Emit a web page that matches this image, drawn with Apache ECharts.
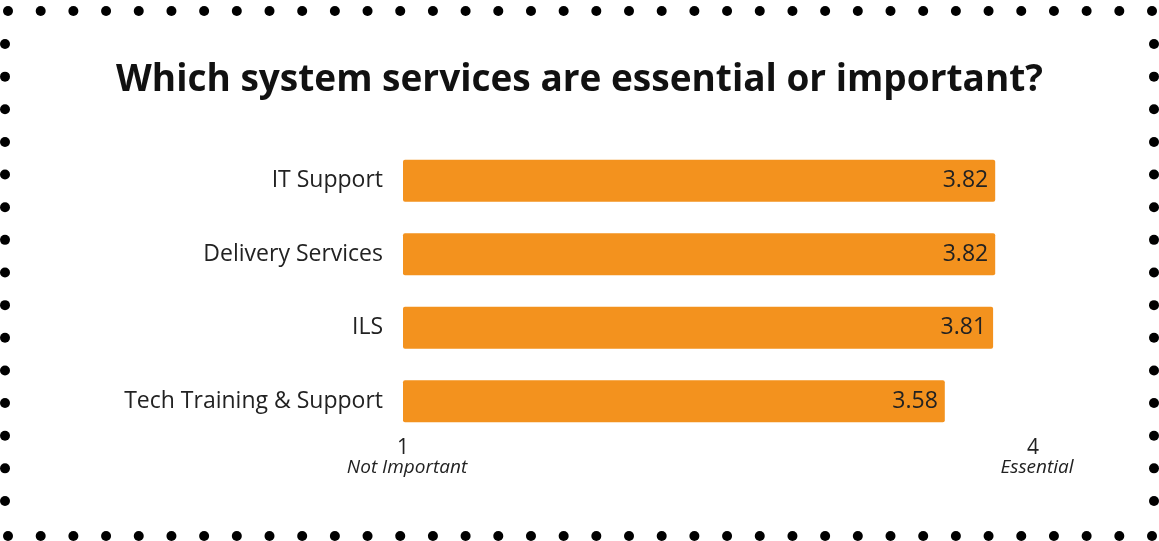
<!DOCTYPE html>
<html>
<head>
<meta charset="utf-8">
<script src="https://cdn.jsdelivr.net/npm/echarts@6/dist/echarts.min.js"></script>
<style>
html,body{margin:0;padding:0;background:#fff;}
#chart{width:1159px;height:541px;}
</style>
</head>
<body>
<div id="chart"></div>
<script>
const titleText = 'Which system services are essential or important?';
const categories = ['IT Support', 'Delivery Services', 'ILS', 'Tech Training & Support'];
const values = [3.82, 3.82, 3.81, 3.58];
const axisEndLabels = { 1: ['1', 'Not Important'], 4: ['4', 'Essential'] };

const FONT = 'Open Sans';
const chart = echarts.init(document.getElementById('chart'), null, { renderer: 'canvas' });

// decorative dotted frame
const dots = [];
const r = 5;
const nH = 36, x0 = 8, x1 = 1152;
for (let i = 0; i < nH; i++) {
  const x = x0 + (x1 - x0) * i / (nH - 1);
  dots.push({ type: 'circle', shape: { cx: x, cy: 11, r: r }, style: { fill: '#000' }, silent: true });
  dots.push({ type: 'circle', shape: { cx: x, cy: 536, r: r }, style: { fill: '#000' }, silent: true });
}
const nV = 15, y0 = 44, y1 = 501;
for (let i = 0; i < nV; i++) {
  const y = y0 + (y1 - y0) * i / (nV - 1);
  dots.push({ type: 'circle', shape: { cx: 5, cy: y, r: r }, style: { fill: '#000' }, silent: true });
  dots.push({ type: 'circle', shape: { cx: 1154, cy: y, r: r }, style: { fill: '#000' }, silent: true });
}

chart.setOption({
  animation: false,
  backgroundColor: '#fff',
  graphic: dots,
  title: {
    text: titleText,
    left: 'center',
    top: 57,
    textStyle: { fontFamily: FONT, fontWeight: 'bold', fontSize: 37, color: '#111' }
  },
  grid: { left: 403, right: 126, top: 144, bottom: 103 },
  xAxis: {
    type: 'value',
    min: 1,
    max: 4,
    interval: 1,
    splitLine: { show: false },
    axisLine: { show: false },
    axisTick: { show: false },
    axisLabel: {
      margin: 0,
      formatter: function (v) {
        const e = axisEndLabels[v];
        return e ? '{n|' + e[0] + '}\n{s|' + e[1] + '}' : '';
      },
      rich: {
        n: { fontFamily: FONT, fontSize: 21, color: '#222', lineHeight: 20 },
        s: { fontFamily: FONT, fontStyle: 'italic', fontSize: 19, color: '#222', lineHeight: 19, padding: [0, 0, 0, 8] }
      }
    }
  },
  yAxis: {
    type: 'category',
    data: categories,
    inverse: true,
    axisLine: { show: false },
    axisTick: { show: false },
    axisLabel: { margin: 20, fontFamily: FONT, fontSize: 23, color: '#222' }
  },
  series: [{
    type: 'bar',
    data: values,
    barWidth: 42,
    itemStyle: { color: '#F3921E', borderRadius: 2 },
    label: {
      show: true,
      position: 'insideRight',
      distance: 7,
      fontFamily: FONT,
      fontSize: 23,
      color: '#222',
      formatter: function (p) { return p.value.toFixed(2); }
    }
  }]
});
</script>
</body>
</html>
